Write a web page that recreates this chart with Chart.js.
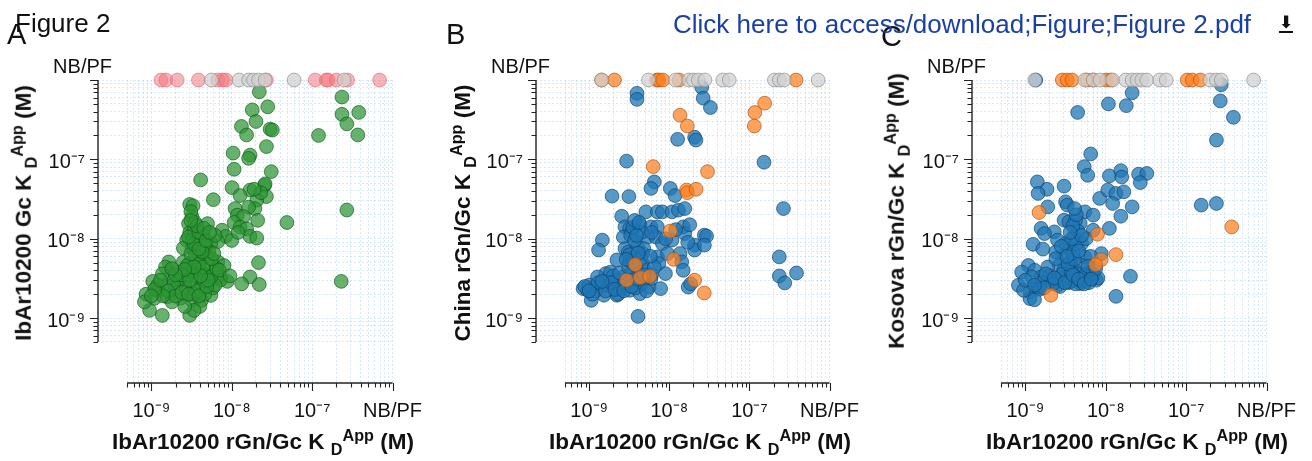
<!DOCTYPE html>
<html lang="en">
<head>
<meta charset="utf-8">
<title>Figure 2</title>
<script src="https://cdn.jsdelivr.net/npm/chart.js@4.4.1/dist/chart.umd.min.js"></script>
<style>
  html, body { margin: 0; padding: 0; background: #fff; }
  body { width: 1312px; height: 461px; position: relative; overflow: hidden;
         font-family: "Liberation Sans", Arial, sans-serif; color: #111; }
  canvas { position: absolute; top: 0; }
  .texto { position: absolute; white-space: nowrap; line-height: 1; z-index: 2; }
  .titulo-eje { font-weight: bold; font-size: 22.5px; }
  .titulo-y { transform: translate(-50%, -50%) rotate(-90deg); }
  .titulo-x { transform: translateX(-50%); }
  .sub { font-size: 0.72em; position: relative; top: 0.38em; }
  .sup { font-size: 0.72em; position: relative; top: -0.52em; }
  .enlace { color: #1a3fa6; font-size: 26px; }
  .descarga { position: absolute; left: 1278px; top: 16px; width: 16px; height: 17px; z-index: 2; }
  .descarga span { position: absolute; left: 0; top: -4px; width: 16px; text-align: center;
                   font: bold 17px "DejaVu Sans"; color: #111; }
  .descarga i { position: absolute; left: 1px; bottom: 0; width: 14px; height: 2px; background: #111; }
</style>
</head>
<body>
<canvas id="panelA" width="438" height="461" style="left:0"></canvas>
<canvas id="panelB" width="437" height="461" style="left:438px"></canvas>
<canvas id="panelC" width="438" height="461" style="left:874px"></canvas>

<div class="texto" style="left:15px;top:10px;font-size:26px">Figure 2</div>
<div class="texto" style="left:7px;top:20px;font-size:29px">A</div>
<div class="texto" style="left:446px;top:20px;font-size:29px">B</div>
<div class="texto" style="left:881px;top:22px;font-size:29px">C</div>
<div class="texto enlace" style="left:673px;top:11px">Click here to access/download;Figure;Figure 2.pdf</div>
<div class="descarga"><span>&#x2B07;</span><i></i></div>

<div class="texto titulo-eje titulo-y" style="left:24px;top:213px">IbAr10200 Gc K <span class="sub">D</span><span class="sup">App</span> (M)</div>
<div class="texto titulo-eje titulo-y" style="left:463px;top:213px">China rGn/Gc K <span class="sub">D</span><span class="sup">App</span> (M)</div>
<div class="texto titulo-eje titulo-y" style="left:897px;top:211px">Kosova rGn/Gc K <span class="sub">D</span><span class="sup">App</span> (M)</div>
<div class="texto titulo-eje titulo-x" style="left:263px;top:431px">IbAr10200 rGn/Gc K <span class="sub">D</span><span class="sup">App</span> (M)</div>
<div class="texto titulo-eje titulo-x" style="left:700px;top:431px">IbAr10200 rGn/Gc K <span class="sub">D</span><span class="sup">App</span> (M)</div>
<div class="texto titulo-eje titulo-x" style="left:1137px;top:431px">IbAr10200 rGn/Gc K <span class="sub">D</span><span class="sup">App</span> (M)</div>

<script>
// valor usado para "NB/PF" (sin union / ajuste fallido), en el borde de cada eje
const NBPF = 1e-6;
const X_MIN = 2.17e-10;
const Y_MIN = 1.52e-10;
const EJE_INICIO = 5e-10;

const MARCAS = [
  5e-10, 6e-10, 7e-10, 8e-10, 9e-10,
  1e-9, 2e-9, 3e-9, 4e-9, 5e-9, 6e-9, 7e-9, 8e-9, 9e-9,
  1e-8, 2e-8, 3e-8, 4e-8, 5e-8, 6e-8, 7e-8, 8e-8, 9e-8,
  1e-7, 2e-7, 3e-7, 4e-7, 5e-7, 6e-7, 7e-7, 8e-7, 9e-7,
  1e-6,
];
const MAYORES = [1e-9, 1e-8, 1e-7, 1e-6];
const ETIQUETAS_X = ["10⁻⁹", "10⁻⁸", "10⁻⁷", "NB/PF"];
const ETIQUETAS_Y = ["10⁻⁹", "10⁻⁸", "10⁻⁷", ""];

// Panel A: IbAr10200 rGn/Gc (x) vs IbAr10200 Gc (y)
const VERDE_A = [
  [2.2e-8, 7.1e-7], [1.8e-8, 4.2e-7], [2.8e-8, 4.6e-7], [2.0e-8, 3.0e-7], [1.32e-8, 2.6e-7],
  [1.53e-8, 2.03e-7], [3.0e-8, 2.4e-7], [2.7e-8, 1.45e-7], [1.04e-8, 1.2e-7], [1.69e-8, 1.13e-7],
  [1.62e-8, 1.03e-7], [1.07e-8, 7.5e-8], [3.1e-8, 7.0e-8], [4.1e-9, 5.5e-8], [1.01e-8, 4.4e-8],
  [1.69e-8, 4.1e-8], [1.27e-8, 3.5e-8], [2.55e-8, 4.7e-8], [2.7e-8, 3.4e-8], [5.9e-9, 3.1e-8],
  [3.0e-9, 2.7e-8], [3.3e-9, 2.6e-8], [2.05e-8, 3.06e-8], [1.94e-8, 2.4e-8], [1.62e-8, 2.5e-8],
  [1.1e-8, 2.4e-8], [1.17e-8, 1.98e-8], [1.4e-8, 1.9e-8], [1.07e-8, 1.6e-8], [1.27e-8, 1.4e-8],
  [1.53e-8, 1.33e-8], [1.69e-8, 1.07e-8], [2.05e-8, 1.02e-8], [3.2e-9, 1.9e-8], [2.9e-9, 1.55e-8],
  [5.0e-9, 1.55e-8], [4.4e-9, 1.1e-8], [7.6e-9, 1.28e-8], [8.4e-9, 1.07e-8], [6.7e-9, 9.2e-9],
  [5.5e-9, 8.8e-9], [3.0e-9, 1.2e-8], [2.75e-9, 9.6e-9], [3.2e-9, 7.6e-9], [2.5e-9, 7.6e-9],
  [3.8e-9, 6.6e-9], [4.8e-9, 6.2e-9], [6.7e-9, 5.1e-9], [8.0e-9, 4.6e-9], [3.0e-9, 4.9e-9],
  [3.6e-9, 4.3e-9], [2.5e-9, 5.1e-9], [1.65e-9, 5.1e-9], [1.5e-9, 4.4e-9], [2.2e-9, 3.8e-9],
  [2.75e-9, 3.3e-9], [3.6e-9, 3.3e-9], [4.6e-9, 3.6e-9], [5.8e-9, 3.8e-9], [7.3e-9, 3.3e-9],
  [8.8e-9, 2.9e-9], [7.2e-9, 3.0e-9], [4.2e-9, 2.6e-9], [3.3e-9, 2.4e-9], [2.2e-9, 2.9e-9],
  [1.73e-9, 3.3e-9], [1.37e-9, 3.6e-9], [1.04e-9, 2.9e-9], [1.25e-9, 2.24e-9], [8.6e-10, 2.0e-9],
  [1.09e-9, 1.77e-9], [1.58e-9, 1.85e-9], [2.3e-9, 1.77e-9], [3.2e-9, 1.67e-9], [4.2e-9, 1.67e-9],
  [5.5e-9, 1.93e-9], [5.8e-9, 2.4e-9], [2.0e-9, 2.4e-9], [9.5e-10, 1.25e-9], [1.37e-9, 1.08e-9],
  [3.0e-9, 1.08e-9], [8.2e-10, 1.6e-9], [2.15e-8, 5.0e-9], [1.69e-8, 3.3e-9], [1.33e-8, 2.7e-9],
  [2.2e-8, 2.65e-9], [3.2e-9, 9.6e-9], [3.6e-9, 8.0e-9], [4.2e-9, 5.4e-9], [5.0e-9, 4.9e-9],
  [2.6e-9, 2.5e-9], [4.6e-9, 2.0e-9], [1.5e-9, 2.5e-9], [1.8e-9, 1.6e-9], [4.85e-8, 1.6e-8],
  [2.7e-7, 2.3e-8], [2.3e-7, 2.9e-9], [1.2e-7, 2.0e-7], [3.7e-7, 2.03e-7], [2.6e-8, 4.9e-8],
  [2.35e-7, 6.1e-7], [2.35e-7, 3.7e-7], [3.8e-7, 3.9e-7], [2.7e-7, 2.8e-7], [3.2e-8, 2.34e-7],
  [3.5e-9, 6.0e-9], [3.8e-9, 4.0e-9], [4.5e-9, 3.0e-9], [3.2e-9, 3.8e-9], [2.8e-9, 4.6e-9],
  [2.2e-9, 3.1e-9], [1.9e-9, 2.7e-9], [1.2e-9, 2.6e-9], [1.6e-9, 2.2e-9], [6.2e-9, 2.6e-9],
  [5.2e-9, 7.0e-9], [3.4e-9, 1.3e-8], [4.0e-9, 1.0e-8], [3.3e-9, 2.0e-9], [3.7e-9, 2.2e-9],
  [4.0e-9, 1.4e-9], [3.4e-9, 1.25e-9], [2.6e-9, 1.4e-9], [2.0e-9, 1.9e-9], [1.4e-9, 1.9e-9],
  [1.1e-9, 2.3e-9], [2.4e-9, 3.5e-9], [3.0e-9, 3.0e-9], [3.9e-9, 4.8e-9], [4.4e-9, 4.4e-9],
  [5.5e-9, 3.3e-9], [6.5e-9, 4.2e-9], [5.6e-9, 5.6e-9], [3.1e-9, 6.4e-9], [3.4e-9, 8.6e-9],
  [2.9e-9, 1.05e-8], [3.9e-9, 1.2e-8], [3.1e-9, 2.2e-8], [3.5e-9, 1.6e-8], [4.6e-9, 8.2e-9],
  [6.0e-9, 6.5e-9], [7.0e-9, 4.0e-9], [9.5e-9, 3.4e-9], [1.0e-8, 9.5e-9], [1.2e-8, 1.2e-8],
  [2.3e-8, 3.8e-8], [1.9e-8, 4.2e-8], [2.1e-8, 1.7e-8], [2.4e-9, 2.1e-9], [2.9e-9, 2.0e-9],
  [3.9e-9, 1.9e-9], [4.9e-9, 2.5e-9], [5.1e-9, 3.0e-9], [4.1e-9, 3.4e-9], [3.4e-9, 4.4e-9],
  [2.6e-9, 4.1e-9], [2.0e-9, 3.5e-9], [1.8e-9, 4.2e-9], [4.3e-9, 6.8e-9], [3.9e-9, 7.4e-9],
  [4.8e-9, 9.5e-9], [6.2e-9, 1.1e-8], [3.7e-9, 1.45e-8], [4.5e-9, 1.35e-8], [3.1e-9, 1.7e-8],
  [5.3e-9, 1.2e-8], [1.0e-9, 1.9e-9], [1.3e-9, 3.0e-9],
];
const ROJO_A_NBPF = [1.32e-9, 1.52e-9, 2.1e-9, 3.85e-9, 6.7e-9, 7.7e-9, 8.5e-9, 2.7e-8, 1.09e-7, 1.5e-7, 1.58e-7, 2.0e-7, 2.76e-7, 6.9e-7];
const GRIS_A_NBPF = [5.6e-9, 1.23e-8, 1.62e-8, 1.87e-8, 2.15e-8, 2.6e-8, 5.97e-8, 2.5e-7];

// Panel B: IbAr10200 rGn/Gc (x) vs China rGn/Gc (y)
const AZUL_B = [
  [3.95e-9, 6.8e-7], [3.95e-9, 5.7e-7], [1.27e-8, 1.79e-7], [2.07e-8, 1.9e-7], [2.15e-8, 1.75e-7],
  [2.93e-9, 9.5e-8], [1.93e-9, 3.44e-8], [3.13e-9, 3.4e-8], [6.5e-9, 5.2e-8], [5.9e-9, 4.3e-8],
  [1.03e-8, 4.3e-8], [1.18e-8, 3.5e-8], [2.55e-9, 1.92e-8], [5.1e-9, 2.18e-8], [7.1e-9, 2.18e-8],
  [8.2e-9, 2.18e-8], [1.08e-8, 2.18e-8], [1.3e-8, 2.29e-8], [1.56e-8, 2.4e-8], [2.8e-9, 1.41e-8],
  [3.2e-9, 1.35e-8], [3.4e-9, 1.22e-8], [4.3e-9, 1.48e-8], [5.9e-9, 1.41e-8], [7.1e-9, 1.41e-8],
  [2.67e-9, 1.05e-8], [5.4e-9, 1.05e-8], [6.8e-9, 1.05e-8], [8.2e-9, 8.7e-9], [1.49e-8, 1.41e-8],
  [1.56e-8, 1.16e-8], [1.08e-8, 9.6e-9], [2.73e-8, 1.11e-8], [2.07e-8, 8.3e-9], [2.07e-8, 7.2e-9],
  [1.46e-9, 9.6e-9], [1.31e-9, 7.2e-9], [2.8e-9, 7.5e-9], [3.08e-9, 6.8e-9], [4.67e-9, 6.5e-9],
  [7.1e-9, 5.9e-9], [2.22e-9, 5.4e-9], [3.2e-9, 5.1e-9], [4.67e-9, 4.86e-9], [7.4e-9, 4.86e-9],
  [1.36e-8, 6.5e-9], [1.43e-8, 5.1e-9], [8.95e-9, 3.64e-9], [1.49e-8, 4.0e-9], [1.72e-8, 2.46e-9],
  [1.61e-9, 3.64e-9], [1.27e-9, 3.3e-9], [1.85e-9, 3.8e-9], [8.4e-10, 2.35e-9], [9.6e-10, 2.24e-9],
  [1.11e-9, 2.46e-9], [1.06e-9, 1.67e-9], [1.4e-9, 2.46e-9], [1.53e-9, 1.94e-9], [2.02e-9, 2.46e-9],
  [2.44e-9, 2.85e-9], [3.2e-9, 2.24e-9], [4.3e-9, 2.03e-9], [5.6e-9, 2.46e-9], [7.8e-9, 2.35e-9],
  [5.9e-9, 3.14e-9], [4.9e-9, 3.3e-9], [2.22e-9, 1.94e-9], [4.07e-9, 1.05e-9], [3.53e-9, 3.0e-9],
  [2.67e-9, 3.3e-9], [2.66e-7, 2.4e-8], [2.36e-7, 5.9e-9], [2.36e-7, 3.39e-9], [2.76e-7, 2.77e-9],
  [3.87e-7, 3.7e-9], [1.52e-7, 9.2e-8], [2.92e-8, 1.08e-8], [2.74e-8, 8.3e-9], [1.85e-8, 2.7e-9],
  [2.54e-8, 8.1e-7], [2.65e-8, 5.9e-7], [3.26e-8, 4.5e-7], [1.2e-9, 2.2e-9], [1.7e-9, 2.6e-9],
  [2.2e-9, 3.0e-9], [3.0e-9, 2.6e-9], [3.5e-9, 3.9e-9], [4.2e-9, 2.6e-9], [2.0e-9, 3.4e-9],
  [1.0e-9, 2.6e-9], [3.6e-9, 5.8e-9], [4.0e-9, 8.0e-9], [3.3e-9, 1.1e-8], [5.0e-9, 4.0e-9],
  [6.0e-9, 3.5e-9], [1.3e-9, 2.8e-9], [1.6e-9, 2.2e-9], [1.9e-9, 2.8e-9], [2.5e-9, 2.3e-9],
  [2.8e-9, 2.8e-9], [3.2e-9, 3.4e-9], [3.8e-9, 2.4e-9], [4.6e-9, 2.8e-9], [5.2e-9, 2.2e-9],
  [2.4e-9, 3.7e-9], [3.1e-9, 4.4e-9], [3.8e-9, 4.6e-9], [4.4e-9, 5.6e-9], [3.2e-9, 6.3e-9],
  [4.8e-9, 7.5e-9], [3.7e-9, 9.5e-9], [4.5e-9, 1.2e-8], [3.5e-9, 1.4e-8], [3.7e-9, 1.7e-8],
  [6.0e-9, 1.2e-8], [9.0e-9, 1.0e-8], [1.2e-8, 1.3e-8], [1.8e-8, 1.5e-8], [1.7e-8, 9.0e-9],
  [1.1e-9, 2.0e-9], [8.8e-10, 2.5e-9], [2.3e-9, 2.0e-9], [6.5e-9, 4.4e-9], [5.8e-9, 6.0e-9],
  [9.5e-9, 6.5e-9], [1.45e-9, 2.9e-9], [2.1e-9, 2.3e-9], [2.7e-9, 2.2e-9], [3.4e-9, 2.5e-9],
  [4.0e-9, 3.1e-9], [4.8e-9, 3.5e-9], [3.5e-9, 5.0e-9], [4.1e-9, 6.6e-9], [2.9e-9, 5.5e-9],
  [3.9e-9, 1.1e-8], [4.2e-9, 1.6e-8], [1.0e-9, 2.2e-9],
];
const NARANJA_B = [
  [1.36e-8, 3.6e-7], [1.68e-8, 2.63e-7], [6.3e-9, 8.1e-8], [3.0e-8, 7.0e-8], [1.64e-8, 4.1e-8],
  [1.68e-8, 3.8e-8], [2.16e-8, 4.2e-8], [1.03e-8, 1.25e-8], [1.13e-8, 5.5e-9], [3.77e-9, 4.7e-9],
  [2.93e-9, 3.0e-9], [4.34e-9, 3.24e-9], [5.7e-9, 3.36e-9], [2.07e-8, 3.0e-9], [2.73e-8, 2.07e-9],
  [1.55e-7, 5.1e-7], [1.17e-7, 3.9e-7], [1.15e-7, 2.63e-7],
];
const NARANJA_B_NBPF = [1.43e-9, 2.07e-9, 7.0e-9, 7.4e-9, 8.3e-9, 1.32e-8, 3.82e-7];
const GRIS_B_NBPF = [1.43e-9, 5.5e-9, 1.2e-8, 1.75e-8, 2.0e-8, 2.3e-8, 2.78e-8, 4.65e-8, 5.6e-8, 2.05e-7, 2.36e-7, 2.71e-7, 7.2e-7];

// Panel C: IbAr10200 rGn/Gc (x) vs Kosova rGn/Gc (y)
const AZUL_C = [
  [2.13e-8, 6.9e-7], [1.08e-8, 5.0e-7], [1.8e-8, 4.75e-7], [4.47e-9, 3.9e-7], [6.5e-9, 1.17e-7],
  [5.4e-9, 8.1e-8], [5.96e-9, 6.3e-8], [1.11e-8, 6.2e-8], [1.54e-8, 7.2e-8], [1.58e-8, 6.0e-8],
  [2.56e-8, 6.5e-8], [3.24e-8, 6.65e-8], [2.69e-8, 5.1e-8], [1.41e-9, 5.2e-8], [1.86e-9, 4.2e-8],
  [1.44e-9, 3.72e-8], [3.03e-9, 4.6e-8], [8.4e-9, 3.22e-8], [1.06e-8, 4.1e-8], [1.34e-8, 3.72e-8],
  [1.68e-8, 3.9e-8], [1.22e-8, 2.78e-8], [2.13e-8, 2.52e-8], [1.54e-8, 1.92e-8], [3.16e-9, 2.92e-8],
  [3.32e-9, 2.65e-8], [1.9e-9, 2.52e-8], [5.5e-9, 2.18e-8], [6.98e-9, 1.98e-8], [3.03e-9, 1.71e-8],
  [3.48e-9, 1.63e-8], [4.8e-9, 1.56e-8], [1.57e-9, 1.35e-8], [2.29e-9, 1.22e-8], [1.73e-9, 1.16e-8],
  [1.11e-8, 1.35e-8], [6.98e-9, 1.28e-8], [1.25e-9, 8.5e-9], [1.65e-9, 7.4e-9], [3.16e-9, 8.7e-9],
  [2.51e-9, 9.6e-9], [5.0e-9, 8.7e-9], [4.0e-9, 1.05e-8], [5.5e-9, 5.9e-9], [8.8e-9, 6.5e-9],
  [3.03e-9, 6.2e-9], [2.39e-9, 6.8e-9], [3.64e-9, 5.1e-9], [2.63e-9, 4.6e-9], [1.9e-9, 4.4e-9],
  [1.09e-9, 4.6e-9], [9.0e-10, 3.8e-9], [1.31e-9, 4.0e-9], [1.57e-9, 3.3e-9], [2.08e-9, 3.0e-9],
  [2.88e-9, 3.0e-9], [4.38e-9, 3.3e-9], [5.8e-9, 3.0e-9], [7.65e-9, 3.0e-9], [6.35e-9, 3.8e-9],
  [8.2e-10, 2.59e-9], [1.14e-9, 2.13e-9], [1.14e-9, 1.76e-9], [9.5e-10, 2.24e-9], [1.44e-9, 2.46e-9],
  [2.51e-9, 2.59e-9], [3.48e-9, 2.85e-9], [4.8e-9, 2.72e-9], [2.03e-8, 3.36e-9], [1.34e-8, 1.88e-9],
  [4.0e-9, 4.2e-9], [5.0e-9, 4.6e-9], [2.38e-7, 1.75e-7], [1.54e-7, 2.65e-8], [2.38e-7, 2.78e-8],
  [2.73e-7, 8.7e-7], [2.66e-7, 5.45e-7], [3.87e-7, 3.39e-7], [2.0e-9, 3.4e-9], [2.5e-9, 3.1e-9],
  [3.3e-9, 3.3e-9], [4.0e-9, 3.0e-9], [3.0e-9, 4.0e-9], [4.5e-9, 3.6e-9], [1.6e-9, 2.8e-9],
  [3.6e-9, 7.5e-9], [2.7e-9, 2.5e-9], [5.2e-9, 3.2e-9], [6.8e-9, 3.3e-9], [4.2e-9, 1.7e-8],
  [1.2e-9, 3.3e-9], [1.5e-9, 2.3e-9], [1.8e-9, 3.6e-9], [2.2e-9, 2.7e-9], [2.9e-9, 3.6e-9],
  [3.5e-9, 2.8e-9], [4.2e-9, 2.7e-9], [5.0e-9, 2.9e-9], [5.6e-9, 3.5e-9], [6.2e-9, 2.8e-9],
  [7.0e-9, 3.6e-9], [8.0e-9, 3.2e-9], [3.7e-9, 3.8e-9], [3.4e-9, 4.8e-9], [4.1e-9, 5.5e-9],
  [3.9e-9, 6.6e-9], [4.3e-9, 8.5e-9], [3.8e-9, 1.0e-8], [4.5e-9, 1.25e-8], [3.9e-9, 1.45e-8],
  [4.3e-9, 2.0e-8], [4.1e-9, 2.4e-8], [5.7e-9, 1.0e-8], [6.5e-9, 6.0e-9], [6.0e-9, 4.5e-9],
  [2.4e-9, 5.6e-9], [2.8e-9, 8.0e-9], [1.3e-9, 1.7e-9], [1.0e-9, 3.0e-9], [7.5e-9, 4.2e-9],
  [1.7e-9, 2.4e-9], [2.3e-9, 3.2e-9], [3.1e-9, 2.8e-9], [3.9e-9, 3.5e-9], [4.6e-9, 3.1e-9],
  [5.4e-9, 2.7e-9], [6.6e-9, 3.1e-9], [3.3e-9, 6.0e-9], [4.6e-9, 7.0e-9], [5.0e-9, 1.1e-8],
  [3.6e-9, 1.2e-8], [1.3e-9, 2.6e-9],
];
const NARANJA_C = [
  [1.48e-9, 2.14e-8], [7.9e-9, 1.14e-8], [1.34e-8, 6.3e-9], [8.8e-9, 5.45e-9], [7.5e-9, 4.7e-9],
  [2.08e-9, 1.94e-9], [3.69e-7, 1.41e-8],
];
const AZUL_C_NBPF = [1.35e-9];
const NARANJA_C_NBPF = [2.88e-9, 3.32e-9, 3.81e-9, 5.8e-9, 6.98e-9, 1.01e-8, 1.16e-8, 1.03e-7, 1.19e-7, 1.5e-7];
const GRIS_C_NBPF = [1.31e-9, 5.5e-9, 7.0e-9, 8.5e-9, 1.22e-8, 1.77e-8, 2.13e-8, 2.45e-8, 2.81e-8, 3.24e-8, 4.69e-8, 5.65e-8, 1.98e-7, 2.38e-7, 2.73e-7, 6.9e-7];

// posicion del area de dibujo dentro de cada canvas
const AREA = { top: 80, right: 401, left: 98, bottom: 383 };

const COLORES = {
  verde: ["rgba(44, 150, 52, 0.72)", "rgba(20, 90, 25, 0.75)"],
  rojo: ["rgba(242, 120, 128, 0.55)", "rgba(225, 90, 100, 0.6)"],
  azul: ["rgba(31, 119, 180, 0.75)", "rgba(15, 65, 110, 0.75)"],
  naranja: ["rgba(252, 127, 30, 0.72)", "rgba(175, 80, 15, 0.75)"],
  gris: ["rgba(208, 208, 208, 0.72)", "rgba(135, 135, 135, 0.7)"],
};

const aPuntos = (pares) => pares.map(([x, y]) => ({ x, y }));
const filaNBPF = (valoresX) => valoresX.map((x) => ({ x, y: NBPF }));

const serie = (datos, color) => ({
  data: datos,
  backgroundColor: COLORES[color][0],
  borderColor: COLORES[color][1],
  borderWidth: 0.9,
  pointRadius: 6.9,
  pointHoverRadius: 6.9,
  clip: false,
});

const ejesSeparados = {
  id: "ejesSeparados",
  beforeDatasetsDraw(chart) {
    const { ctx, chartArea, scales } = chart;
    const ex = scales.x;
    const ey = scales.y;
    const y0 = chartArea.bottom;
    const x0 = chartArea.left;
    ctx.save();
    ctx.strokeStyle = "#222";
    ctx.lineCap = "butt";

    ctx.lineWidth = 1.4;
    ctx.beginPath();
    ctx.moveTo(x0, ey.getPixelForValue(NBPF));
    ctx.lineTo(x0, ey.getPixelForValue(EJE_INICIO));
    ctx.moveTo(ex.getPixelForValue(EJE_INICIO), y0);
    ctx.lineTo(ex.getPixelForValue(NBPF), y0);
    ctx.stroke();

    ctx.lineWidth = 1.1;
    ctx.beginPath();
    MARCAS.forEach((valor) => {
      const largo = MAYORES.includes(valor) ? 8 : 4.5;
      const py = Math.round(ey.getPixelForValue(valor)) + 0.5;
      ctx.moveTo(x0, py);
      ctx.lineTo(x0 - largo, py);
      const px = Math.round(ex.getPixelForValue(valor)) + 0.5;
      ctx.moveTo(px, y0);
      ctx.lineTo(px, y0 + largo);
    });
    ctx.stroke();

    ctx.fillStyle = "#111";
    ctx.font = "20px 'Liberation Sans', Arial, sans-serif";
    ctx.textAlign = "right";
    ctx.textBaseline = "alphabetic";
    ctx.fillText("NB/PF", x0 + 14, ey.getPixelForValue(NBPF) - 7);
    ctx.restore();
  },
};

const escalaLog = (eje) => ({
  type: "logarithmic",
  position: eje === "x" ? "bottom" : "left",
  bounds: "data",
  min: eje === "x" ? X_MIN : Y_MIN,
  max: NBPF,
  afterBuildTicks: (escala) => {
    escala.ticks = MARCAS.map((value) => ({ value }));
  },
  afterFit: (escala) => {
    if (eje === "x") escala.height = 461 - AREA.bottom;
    else escala.width = AREA.left;
  },
  grid: { color: "rgba(160, 202, 238, 0.42)", lineWidth: 1, drawTicks: false },
  border: { display: false, dash: [2, 2] },
  ticks: {
    autoSkip: false,
    maxRotation: 0,
    padding: eje === "x" ? 16 : 13,
    labelOffset: eje === "y" ? 3 : 0,
    color: "#111",
    font: { family: "'Liberation Sans', Arial, sans-serif", size: 20 },
    callback: (valor) => {
      const i = MAYORES.indexOf(valor);
      if (i < 0) return "";
      return eje === "x" ? ETIQUETAS_X[i] : ETIQUETAS_Y[i];
    },
  },
});

const crearPanel = (id, series) => {
  const canvas = document.getElementById(id);
  return new Chart(canvas, {
    type: "scatter",
    data: { datasets: series },
    options: {
      responsive: false,
      animation: false,
      layout: { padding: { top: AREA.top, right: canvas.width - AREA.right, bottom: 0, left: 0 } },
      plugins: { legend: { display: false }, tooltip: { enabled: false } },
      scales: { x: escalaLog("x"), y: escalaLog("y") },
    },
    plugins: [ejesSeparados],
  });
};

// el primer dataset queda dibujado encima
crearPanel("panelA", [
  serie(filaNBPF(GRIS_A_NBPF), "gris"),
  serie(filaNBPF(ROJO_A_NBPF), "rojo"),
  serie(aPuntos(VERDE_A), "verde"),
]);

crearPanel("panelB", [
  serie(filaNBPF(GRIS_B_NBPF), "gris"),
  serie(filaNBPF(NARANJA_B_NBPF), "naranja"),
  serie(aPuntos(NARANJA_B), "naranja"),
  serie(aPuntos(AZUL_B), "azul"),
]);

crearPanel("panelC", [
  serie(filaNBPF(GRIS_C_NBPF), "gris"),
  serie(filaNBPF(NARANJA_C_NBPF), "naranja"),
  serie(aPuntos(NARANJA_C), "naranja"),
  serie(filaNBPF(AZUL_C_NBPF), "azul"),
  serie(aPuntos(AZUL_C), "azul"),
]);
</script>
</body>
</html>
